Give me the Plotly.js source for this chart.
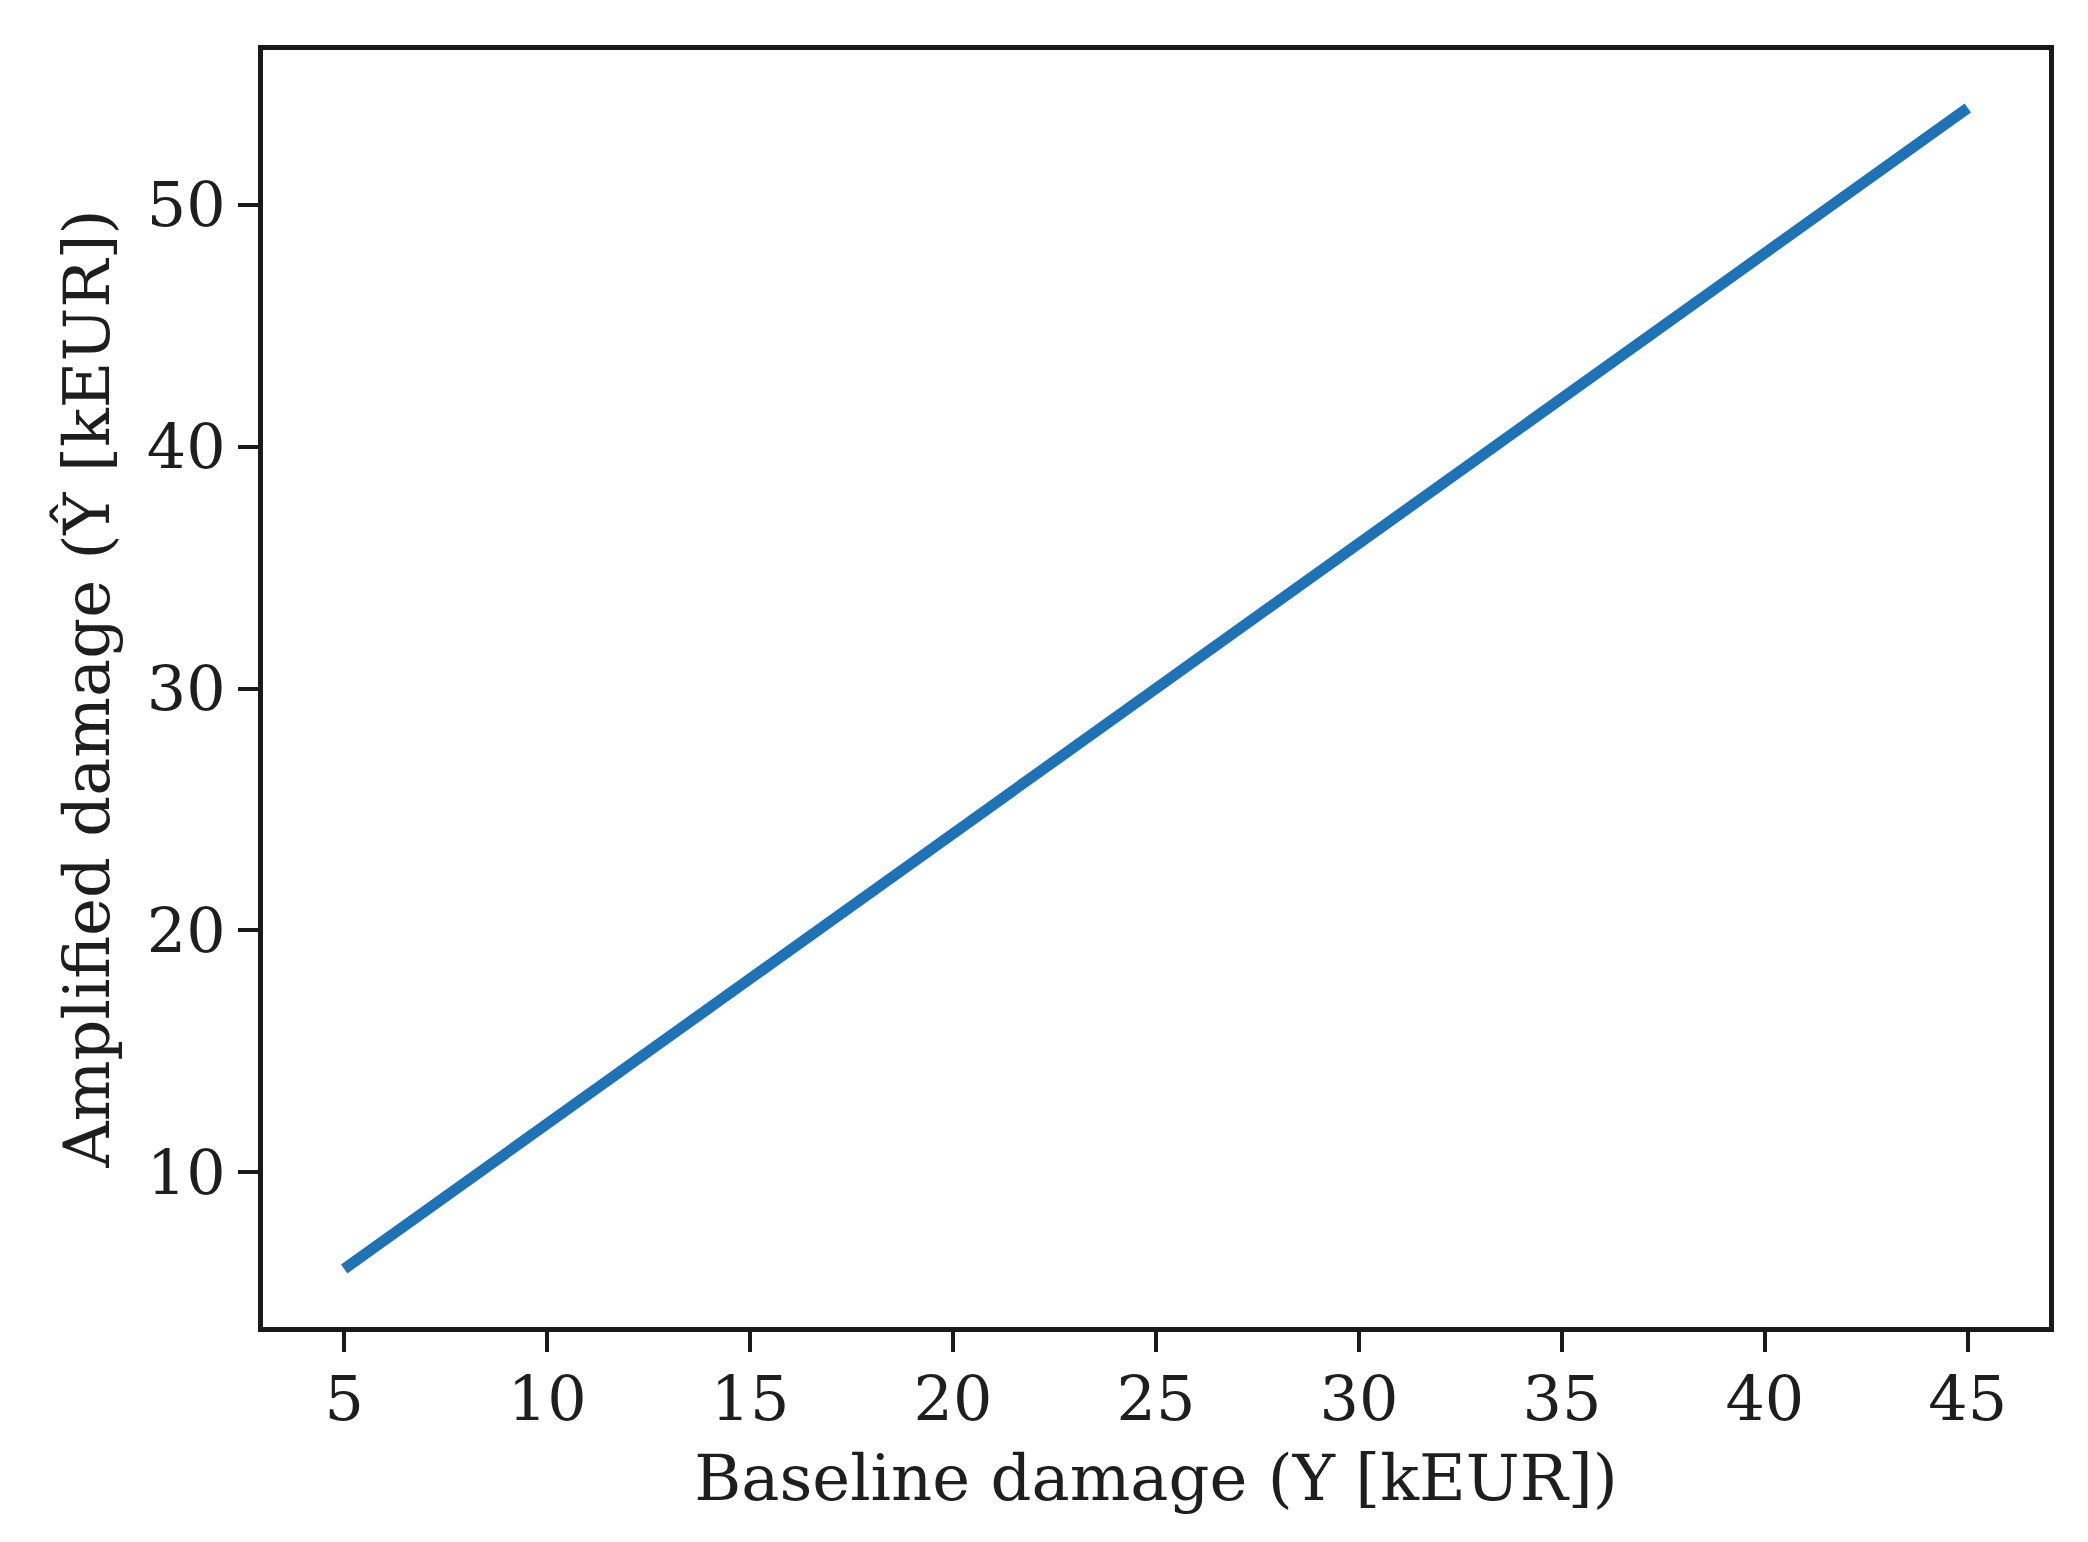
<!DOCTYPE html>
<html>
<head>
<meta charset="utf-8">
<script src="https://cdn.plot.ly/plotly-3.0.1.min.js"></script>
<style>html,body{margin:0;padding:0;background:#fff;}#chart{width:2088px;height:1542px;}</style>
</head>
<body>
<div id="chart"></div>
<script>
// Data
const baselineDamage = [5, 10, 15, 20, 25, 30, 35, 40, 45];
const amplifiedDamage = [6, 12, 18, 24, 30, 36, 42, 48, 54];
const xTickVals = [5, 10, 15, 20, 25, 30, 35, 40, 45];
const yTickVals = [10, 20, 30, 40, 50];
const xTitle = 'Baseline damage (Y [kEUR])';
const yTitle = 'Amplified damage (Ŷ [kEUR])';

const font = {family: 'DejaVu Serif, serif', size: 62, color: '#1e1e1e'};
const titleFont = {family: 'DejaVu Serif, serif', size: 64, color: '#1e1e1e'};

const trace = {
  x: baselineDamage,
  y: amplifiedDamage,
  type: 'scatter',
  mode: 'lines',
  line: {color: '#1f72b4', width: 11},
  hoverinfo: 'none'
};

const axisCommon = {
  showline: true,
  mirror: true,
  linecolor: '#1a1a1a',
  linewidth: 5,
  ticks: 'outside',
  ticklen: 20,
  tickwidth: 4,
  tickcolor: '#1a1a1a',
  showgrid: false,
  zeroline: false,
  tickfont: font
};

const layout = {
  width: 2088,
  height: 1542,
  paper_bgcolor: '#ffffff',
  plot_bgcolor: '#ffffff',
  margin: {l: 263, r: 39, t: 50, b: 215},
  showlegend: false,
  font: font,
  xaxis: Object.assign({}, axisCommon, {
    range: [3, 47],
    tickmode: 'array',
    tickvals: xTickVals,
    ticktext: xTickVals.map(String),
    ticklabelstandoff: -6,
    title: {text: xTitle, font: titleFont, standoff: 22}
  }),
  yaxis: Object.assign({}, axisCommon, {
    range: [3.6, 56.4],
    tickmode: 'array',
    tickvals: yTickVals,
    ticktext: yTickVals.map(String),
    title: {text: yTitle, font: titleFont, standoff: 18}
  })
};

Plotly.newPlot('chart', [trace], layout, {staticPlot: true, displayModeBar: false});
</script>
</body>
</html>
